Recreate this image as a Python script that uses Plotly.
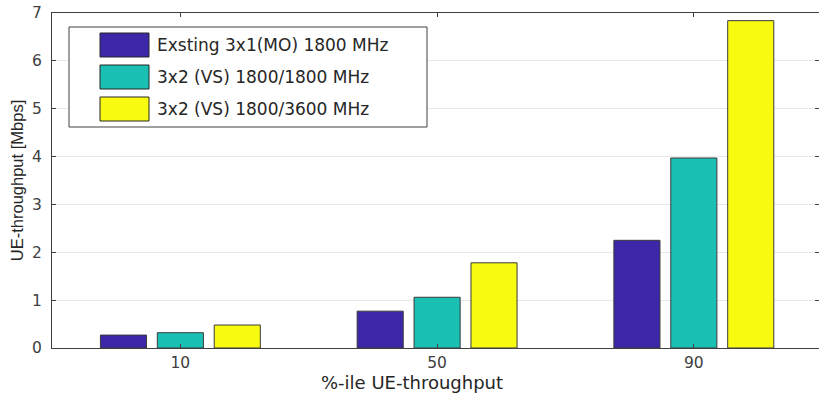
import plotly.graph_objects as go

categories = [10, 50, 90]
series_names = ["Exsting 3x1(MO) 1800 MHz", "3x2 (VS) 1800/1800 MHz", "3x2 (VS) 1800/3600 MHz"]
existing_3x1 = [0.27, 0.77, 2.25]
vs_1800_1800 = [0.32, 1.06, 3.97]
vs_1800_3600 = [0.48, 1.78, 6.84]
y_ticks = [0, 1, 2, 3, 4, 5, 6, 7]

colors = ["#3D26A8", "#1AC0B4", "#F8FA10"]
values = [existing_3x1, vs_1800_1800, vs_1800_3600]

W, H = 819, 393
L, R, T, B = 52, 0, 13, 45
pw, ph = W - L - R, H - T - B

def px(x):
    return (x - L) / pw

def py(y):
    return 1 - (y - T) / ph

fig = go.Figure()
for name, vals, c in zip(series_names, values, colors):
    fig.add_trace(go.Bar(x=categories, y=vals, name=name, marker=dict(color=c, line=dict(color="#3a3a3a", width=1)),
                         showlegend=False))

wide = "DejaVu Sans, Verdana, sans-serif"
narrow = "Liberation Sans, Arial, Helvetica, sans-serif"
fig.update_layout(
    width=W, height=H, margin=dict(l=L, r=R, t=T, b=B),
    paper_bgcolor="white", plot_bgcolor="white",
    barmode="group", bargap=0.335, bargroupgap=0.19,
    font=dict(family=wide, size=16, color="#262626"),
)
fig.update_xaxes(range=[-10, 109.5], tickvals=categories, ticktext=[str(c) for c in categories],
                 ticks="inside", ticklen=4, tickcolor="#404040", showline=True, linecolor="#404040", linewidth=1,
                 mirror="ticks", showgrid=False, zeroline=False, layer="above traces",
                 tickfont=dict(family=wide, size=15.5, color="#404040"))
fig.update_yaxes(range=[0, 7], tickvals=y_ticks, ticks="inside", ticklen=4, tickcolor="#404040",
                 showline=True, linecolor="#404040", linewidth=1, mirror="ticks",
                 showgrid=True, gridcolor="#e8e8e8", gridwidth=1, zeroline=False, layer="above traces",
                 tickfont=dict(family=wide, size=15.5, color="#404040"), ticklabelstandoff=6,
                 title=dict(text="UE-throughput [Mbps]", font=dict(family=narrow, size=16.5, color="#262626"), standoff=4))

# x-axis title (placed as in the reference)
fig.add_annotation(xref="paper", yref="paper", x=px(411.5), y=py(382), text="%-ile UE-throughput", showarrow=False,
                   xanchor="center", yanchor="middle", font=dict(family=wide, size=18, color="#262626"))

# legend box (custom, MATLAB-like)
fig.add_shape(type="rect", xref="paper", yref="paper", x0=px(69), x1=px(427), y0=py(27), y1=py(127),
              line=dict(color="#404040", width=1), fillcolor="white", layer="above")
row_y = [45, 77, 109]
for name, c, yc in zip(series_names, colors, row_y):
    fig.add_shape(type="rect", xref="paper", yref="paper", x0=px(100), x1=px(149), y0=py(yc - 12), y1=py(yc + 12),
                  line=dict(color="#262626", width=1), fillcolor=c, layer="above")
    fig.add_annotation(xref="paper", yref="paper", x=px(155), y=py(yc), text=name, showarrow=False,
                       xanchor="left", yanchor="middle", font=dict(family=wide, size=17, color="#262626"))

fig.write_html("out.html")
